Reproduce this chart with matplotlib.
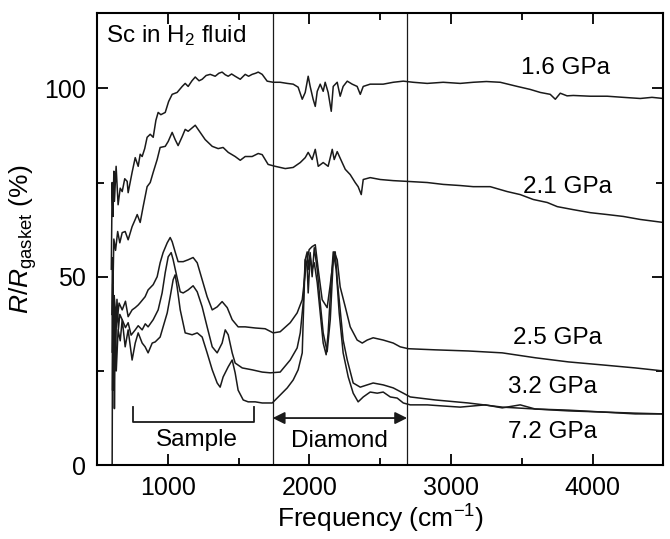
import matplotlib
matplotlib.use("Agg")
import matplotlib.pyplot as plt
from matplotlib.ticker import MultipleLocator

# ---------------------------------------------------------------------------
# Data (frequency in cm^-1, R/R_gasket in %)
# ---------------------------------------------------------------------------

f16 = [600, 606, 612, 618, 622, 634, 648, 663, 677, 695, 712, 719, 733, 747, 769, 790,
       804, 818, 836, 853, 875, 896, 915, 931, 950, 981, 1005, 1030, 1065, 1101, 1122,
       1143, 1170, 1193, 1220, 1242, 1270, 1299, 1334, 1360, 1383, 1405, 1426, 1450,
       1475, 1511, 1546, 1570, 1595, 1620, 1638, 1666, 1701, 1744, 1793, 1843, 1885,
       1920, 1949, 1970, 1991, 2005, 2026, 2041, 2055, 2076, 2097, 2111, 2132, 2154,
       2168, 2196, 2217, 2238, 2267, 2302, 2337, 2359, 2380, 2429, 2479, 2521, 2592,
       2663, 2733, 2832, 2945, 3065, 3157, 3250, 3348, 3468, 3560, 3631, 3701, 3737,
       3772, 3820, 3864, 3984, 4104, 4217, 4337, 4420, 4500]
r16 = [52, 75.0, 66, 78, 70, 79.3, 69.1, 73.5, 72.6, 76.0, 75.3, 72.3, 75.0, 77.7, 81.6,
       79.3, 82.5, 81.9, 84.0, 87.0, 87.8, 87.0, 91.5, 93.6, 93.0, 93.6, 96.5, 98.4, 98.9,
       100.5, 101.3, 100.5, 102.0, 103.0, 102.0, 102.4, 103.4, 103.7, 103.2, 104.0, 104.3,
       103.6, 103.2, 103.8, 103.2, 102.4, 103.7, 103.2, 103.7, 104.0, 104.3, 103.7, 101.9,
       101.6, 101.6, 101.3, 101.1, 100.3, 97.1, 98.9, 103.2, 100.5, 97.1, 95.2, 99.2,
       101.1, 99.2, 101.6, 98.9, 93.9, 100.5, 101.6, 97.9, 100.5, 101.9, 101.1, 100.5,
       98.4, 100.5, 101.1, 101.1, 101.1, 101.6, 101.9, 101.6, 101.3, 101.6, 101.3, 101.6,
       101.8, 101.6, 100.5, 99.7, 98.9, 98.4, 97.1, 98.7, 98.0, 98.1, 97.9, 97.9, 97.6,
       97.3, 97.6, 97.3]

f21 = [604, 608, 612, 618, 630, 645, 660, 677, 698, 719, 747, 769, 783, 804, 825, 853,
       875, 896, 924, 945, 981, 1002, 1030, 1051, 1072, 1101, 1122, 1143, 1193, 1228,
       1263, 1313, 1355, 1390, 1426, 1475, 1511, 1546, 1595, 1638, 1666, 1687, 1708,
       1758, 1829, 1885, 1935, 1970, 1991, 2019, 2041, 2062, 2097, 2132, 2161, 2175,
       2196, 2231, 2253, 2288, 2323, 2344, 2366, 2380, 2429, 2500, 2592, 2691, 2832,
       2945, 3065, 3157, 3277, 3397, 3489, 3581, 3680, 3751, 3864, 3984, 4104, 4217,
       4337, 4500]
r21 = [40, 55, 48, 60, 57, 62, 59, 61.7, 62.0, 59.8, 63.3, 65.2, 66.5, 64.4, 68.6, 73.9,
       75.0, 77.7, 81.1, 84.3, 84.6, 85.9, 88.3, 86.4, 84.8, 87.2, 89.1, 88.6, 90.2, 88.3,
       86.4, 84.6, 84.0, 84.3, 83.0, 81.9, 80.9, 81.9, 81.9, 82.7, 82.4, 81.1, 79.8, 79.3,
       78.7, 79.0, 80.3, 81.6, 83.0, 81.1, 83.8, 79.3, 80.3, 79.3, 83.8, 81.1, 83.2, 80.3,
       78.5, 77.1, 75.0, 73.9, 71.8, 75.8, 76.3, 75.8, 75.5, 75.3, 75.0, 74.5, 74.2, 73.9,
       73.9, 72.6, 71.8, 70.5, 69.7, 68.6, 67.8, 67.0, 66.5, 66.0, 65.2, 64.4]

f25 = [606, 610, 615, 620, 627, 640, 655, 677, 700, 719, 747, 769, 790, 804, 839, 860,
       896, 924, 945, 966, 995, 1016, 1030, 1051, 1072, 1108, 1143, 1178, 1207, 1242,
       1277, 1313, 1348, 1383, 1419, 1454, 1496, 1546, 1617, 1687, 1744, 1793, 1864,
       1913, 1949, 1977, 1998, 2019, 2041, 2062, 2090, 2125, 2147, 2175, 2196, 2217,
       2253, 2288, 2337, 2373, 2408, 2450, 2521, 2592, 2641, 2698, 2889, 3122, 3362,
       3595, 3829, 4069, 4302, 4500]
r25 = [30, 48, 35, 45, 42.0, 38, 43, 41.2, 43.5, 39.4, 41.2, 41.8, 42.5, 43.1, 44.7, 46.5,
       47.9, 50.0, 53.7, 56.4, 59.0, 60.4, 59.3, 56.6, 54.0, 54.0, 54.5, 55.1, 53.7, 49.2,
       44.7, 41.2, 42.0, 43.4, 41.8, 38.6, 36.7, 36.7, 36.4, 36.2, 35.1, 35.4, 37.8, 40.4,
       43.9, 53.2, 57.2, 58.0, 58.5, 51.9, 43.9, 41.8, 47.9, 56.6, 54.5, 47.3, 42.0, 36.7,
       33.2, 32.4, 33.2, 33.8, 33.2, 32.4, 31.4, 30.9, 30.6, 30.3, 29.8, 28.5, 27.4, 26.6,
       25.8, 25.0]

f32 = [608, 612, 618, 624, 630, 640, 650, 660, 677, 700, 719, 740, 769, 790, 818, 840,
       860, 896, 931, 959, 981, 1002, 1023, 1037, 1065, 1087, 1108, 1143, 1178, 1207,
       1242, 1277, 1313, 1348, 1383, 1405, 1426, 1454, 1475, 1525, 1595, 1666, 1723,
       1793, 1864, 1913, 1935, 1956, 1970, 1984, 1991, 2005, 2019, 2034, 2055, 2076,
       2097, 2125, 2147, 2168, 2182, 2196, 2217, 2238, 2267, 2309, 2359, 2408, 2450,
       2521, 2592, 2663, 2712, 2889, 3122, 3362, 3595, 3829, 4069, 4302, 4500]
r32 = [20, 45, 25, 42, 30, 44, 36, 40, 38.6, 36.5, 37.8, 34.5, 35.9, 37.0, 35.9, 37.5,
       36.7, 38.6, 41.2, 45.7, 51.1, 55.3, 56.4, 54.5, 49.7, 46.0, 45.7, 46.5, 47.6, 46.0,
       42.0, 36.7, 31.4, 29.8, 32.4, 35.9, 34.6, 29.8, 27.1, 25.8, 25.3, 24.7, 24.5, 24.7,
       27.9, 31.1, 35.1, 43.1, 54.5, 56.6, 51.9, 56.4, 50.0, 57.7, 51.9, 43.1, 35.1, 30.1,
       38.6, 54.5, 56.6, 49.2, 41.2, 33.2, 27.9, 21.8, 20.7, 21.3, 21.8, 21.3, 20.5, 19.1,
       18.1, 17.3, 16.5, 15.4, 14.9, 14.6, 14.1, 13.8, 13.6]

f72 = [603, 606, 609, 613, 617, 622, 628, 635, 648, 663, 677, 698, 719, 747, 769, 790,
       818, 839, 860, 889, 910, 945, 966, 995, 1016, 1037, 1051, 1065, 1087, 1122, 1171,
       1207, 1242, 1277, 1313, 1348, 1369, 1390, 1426, 1454, 1475, 1496, 1532, 1567,
       1617, 1666, 1708, 1737, 1793, 1843, 1885, 1920, 1949, 1956, 1970, 1984, 1991,
       2005, 2019, 2034, 2055, 2076, 2097, 2118, 2132, 2154, 2168, 2189, 2210, 2238,
       2274, 2309, 2344, 2380, 2429, 2479, 2521, 2571, 2620, 2663, 2712, 2832, 2945,
       3065, 3242, 3362, 3489, 3595, 3829, 4069, 4302, 4500]
r72 = [-3, 0, 40, 20, 44, 15, 38, 25, 35.9, 33.0, 38.6, 31.4, 35.9, 27.9, 32.4, 35.1,
       32.4, 31.4, 29.8, 32.4, 32.7, 34.0, 36.7, 40.4, 44.7, 49.2, 50.5, 47.3, 41.2, 35.1,
       34.6, 35.1, 34.0, 29.8, 25.3, 21.8, 20.7, 23.4, 26.1, 27.9, 24.5, 19.9, 17.3, 16.8,
       16.8, 16.5, 16.5, 16.5, 18.6, 20.5, 22.6, 25.3, 29.8, 38.6, 54.5, 52.7, 45.7, 55.3,
       51.9, 53.7, 48.4, 40.4, 32.4, 29.3, 35.1, 49.2, 56.6, 51.9, 40.4, 29.8, 23.4, 19.1,
       16.8, 18.1, 19.4, 19.1, 19.4, 18.1, 17.8, 16.5, 16.0, 16.0, 15.7, 15.4, 16.0, 15.2,
       16.0, 14.9, 14.4, 14.1, 13.6, 13.6]

SERIES = [(f16, r16), (f21, r21), (f25, r25), (f32, r32), (f72, r72)]

PRESSURE_LABELS = ["1.6 GPa", "2.1 GPa", "2.5 GPa", "3.2 GPa", "7.2 GPa"]
LABEL_X = [3810, 3820, 3750, 3720, 3720]
LABEL_Y = [105.3, 73.7, 33.8, 20.7, 8.8]

DIAMOND_EDGES = [1740, 2690]
SAMPLE_RANGE = [754, 1610]

# ---------------------------------------------------------------------------
# Style
# ---------------------------------------------------------------------------

plt.rcParams.update({
    "font.family": ["Liberation Sans", "DejaVu Sans"],
    "font.size": 18,
    "mathtext.fontset": "custom",
    "mathtext.rm": "Liberation Sans",
    "mathtext.it": "Liberation Sans:italic",
    "axes.linewidth": 1.5,
})

LABEL_FS = 17.5

fig = plt.figure(figsize=(6.7, 5.39), dpi=100)
ax = fig.add_axes([0.145, 0.137, 0.845, 0.839])

for f, r in SERIES:
    ax.plot(f, r, color="#1a1a1a", lw=1.1)

for xv in DIAMOND_EDGES:
    ax.axvline(xv, color="#1a1a1a", lw=0.9)

# Diamond double arrow
ax.annotate("", xy=(DIAMOND_EDGES[0], 12.5), xytext=(DIAMOND_EDGES[1], 12.5),
            arrowprops=dict(arrowstyle="<|-|>", color="#1a1a1a", lw=1.3,
                            mutation_scale=18, shrinkA=0, shrinkB=0))
ax.text(sum(DIAMOND_EDGES) / 2, 6.4, "Diamond", ha="center", va="center", fontsize=LABEL_FS)

# Sample bracket
ax.plot([SAMPLE_RANGE[0], SAMPLE_RANGE[0], SAMPLE_RANGE[1], SAMPLE_RANGE[1]],
        [15.4, 11.4, 11.4, 15.4], color="#1a1a1a", lw=1.3)
ax.text(1207, 6.8, "Sample", ha="center", va="center", fontsize=LABEL_FS)

for lab, lx, ly in zip(PRESSURE_LABELS, LABEL_X, LABEL_Y):
    ax.text(lx, ly, lab, ha="center", va="center", fontsize=LABEL_FS)

ax.text(0.015, 0.95, r"Sc in H$_2$ fluid", transform=ax.transAxes,
        ha="left", va="center", fontsize=17.5)

ax.set_xlim(500, 4500)
ax.set_ylim(0, 120)
ax.xaxis.set_major_locator(MultipleLocator(1000))
ax.xaxis.set_minor_locator(MultipleLocator(500))
ax.yaxis.set_major_locator(MultipleLocator(50))
ax.yaxis.set_minor_locator(MultipleLocator(25))
ax.tick_params(which="both", direction="in", top=True, right=True, width=1.3)
ax.tick_params(which="major", length=8, pad=8, labelsize=18)
ax.tick_params(which="minor", length=5)

ax.set_xlabel(r"Frequency (cm$^{-1}$)", fontsize=19, labelpad=2)
ax.set_ylabel(r"$R$/$R_{\rm gasket}$ (%)", fontsize=19, labelpad=4)

fig.savefig("out.png", dpi=100)
